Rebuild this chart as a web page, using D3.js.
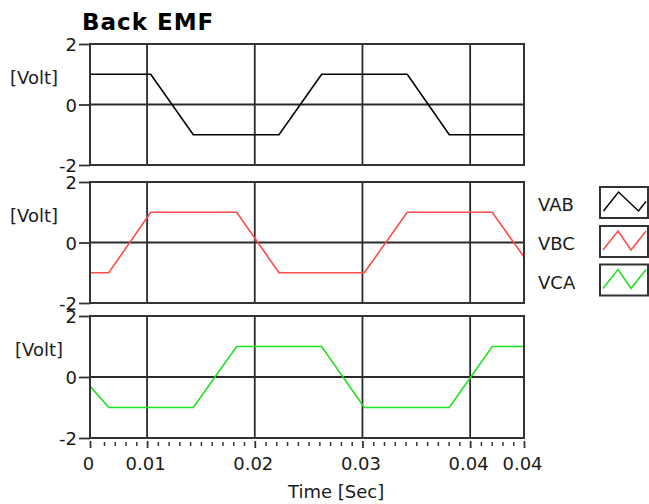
<!DOCTYPE html>
<html>
<head>
<meta charset="utf-8">
<script src="https://cdn.jsdelivr.net/npm/d3@7"></script>
<style>
  body { margin: 0; background: #fff; }
  svg { display: block; font-family: "DejaVu Sans", sans-serif; }
</style>
</head>
<body>
<div id="chart"></div>
<script>
// breakpoints (time in s, value in V)
const vabT = [0, 0.00564, 0.00959, 0.01755, 0.02151, 0.02946, 0.03336, 0.0403];
const vabV = [1, 1, -1, -1, 1, 1, -1, -1];
const vbcT = [0, 0.00174, 0.00564, 0.01362, 0.01755, 0.02547, 0.02946, 0.03735, 0.0403];
const vbcV = [-1, -1, 1, 1, -1, -1, 1, 1, -0.48];
const vcaT = [0, 0.00174, 0.00959, 0.01362, 0.02151, 0.02547, 0.03336, 0.03735, 0.0403];
const vcaV = [-0.3, -1, -1, 1, 1, -1, -1, 1, 1];

const seriesNames = ['VAB', 'VBC', 'VCA'];
const seriesColors = ['#000000', '#ff4a4a', '#1fe01f'];

const xDomain = [0, 0.0403];
const xMajor = [0, 0.0053, 0.0153, 0.0253, 0.0353, 0.0403];
const xLabels = ['0', '0.01', '0.02', '0.03', '0.04', '0.04'];
const xGrid = [0.0053, 0.0153, 0.0253, 0.0353];
const yTicks = [-2, 0, 2];
const yTickLabels = ['-2', '0', '2'];

const W = 649, H = 504;
const left = 90, right = 524;
const panels = [ // layout only
    { top: 44, bottom: 165, labelX: 10 },
    { top: 182, bottom: 303, labelX: 10 },
    { top: 316, bottom: 438, labelX: 15 }
];

const data = [
    vabT.map((t, i) => ({ t, v: vabV[i] })),
    vbcT.map((t, i) => ({ t, v: vbcV[i] })),
    vcaT.map((t, i) => ({ t, v: vcaV[i] }))
];

const svg = d3.select('#chart').append('svg')
    .attr('width', W)
    .attr('height', H);

const x = d3.scaleLinear().domain(xDomain).range([left, right]);

// title
svg.append('text')
    .attr('x', 82)
    .attr('y', 29.5)
    .attr('font-size', 23)
    .attr('font-weight', 'bold')
    .attr('letter-spacing', 1)
    .attr('fill', '#000')
    .text('Back EMF');

panels.forEach((p, k) => {
    const y = d3.scaleLinear().domain([-2, 2]).range([p.bottom, p.top]);
    const g = svg.append('g');

    // vertical grid
    g.selectAll('.vgrid').data(xGrid).join('line')
        .attr('x1', d => x(d)).attr('x2', d => x(d))
        .attr('y1', p.top).attr('y2', p.bottom)
        .attr('stroke', '#2a2a2a').attr('stroke-width', 1.8);

    // zero line
    g.append('line')
        .attr('x1', left).attr('x2', right)
        .attr('y1', y(0)).attr('y2', y(0))
        .attr('stroke', '#2a2a2a').attr('stroke-width', 1.8);

    // waveform
    const line = d3.line().x(d => x(d.t)).y(d => y(d.v));
    g.append('path')
        .datum(data[k])
        .attr('d', line)
        .attr('fill', 'none')
        .attr('stroke', seriesColors[k])
        .attr('stroke-width', 1.6);

    // frame
    g.append('rect')
        .attr('x', left).attr('y', p.top)
        .attr('width', right - left).attr('height', p.bottom - p.top)
        .attr('fill', 'none')
        .attr('stroke', '#333').attr('stroke-width', 2);

    // y axis
    const yAxis = g.append('g')
        .attr('transform', `translate(${left},0)`)
        .call(d3.axisLeft(y).tickValues(yTicks).tickSize(11).tickPadding(2)
            .tickFormat((d, i) => yTickLabels[i]));
    yAxis.select('.domain').remove();
    yAxis.selectAll('line').attr('stroke', '#333').attr('stroke-width', 1.8);
    yAxis.selectAll('text')
        .attr('font-size', 18)
        .attr('font-family', '"DejaVu Sans", sans-serif')
        .attr('fill', '#1a1a1a')
        .attr('dy', '0.38em');

    // unit label
    g.append('text')
        .attr('x', p.labelX)
        .attr('y', p.top + 40)
        .attr('font-size', 18)
        .attr('fill', '#1a1a1a')
        .text('[Volt]');
});

// x axis below last panel
const last = panels[panels.length - 1];
const minor = d3.range(13, 404, 10).map(d => d / 10000)
    .filter(d => !xMajor.some(m => Math.abs(m - d) < 1e-6));

const xMinor = svg.append('g')
    .attr('transform', `translate(0,${last.bottom + 4})`)
    .call(d3.axisBottom(x).tickValues(minor).tickSize(4).tickFormat(''));
xMinor.select('.domain').remove();
xMinor.selectAll('line').attr('stroke', '#333').attr('stroke-width', 1.5);

const xAxis = svg.append('g')
    .attr('transform', `translate(0,${last.bottom + 3})`)
    .call(d3.axisBottom(x).tickValues(xMajor).tickSize(7).tickPadding(9)
        .tickFormat((d, i) => xLabels[i]));
xAxis.select('.domain').remove();
xAxis.selectAll('line').attr('stroke', '#333').attr('stroke-width', 1.8);
xAxis.selectAll('text')
    .attr('font-size', 18)
    .attr('font-family', '"DejaVu Sans", sans-serif')
    .attr('fill', '#1a1a1a')
    .attr('dx', -2);

svg.append('text')
    .attr('x', 288)
    .attr('y', 498)
    .attr('font-size', 18)
    .attr('fill', '#1a1a1a')
    .text('Time [Sec]');

// legend
const legendTop = [187, 226, 264.5];
const icons = [
    [[3.5, 24], [18.5, 5], [38.5, 24], [46, 14.5]],
    [[3, 24], [18, 5], [31, 24], [46, 5]],
    [[3, 24], [18, 5], [31, 24], [46, 5]]
];
seriesNames.forEach((name, i) => {
    const ly = legendTop[i];
    svg.append('text')
        .attr('x', 538)
        .attr('y', ly + 24)
        .attr('font-size', 18)
        .attr('fill', '#1a1a1a')
        .text(name);
    const box = svg.append('g').attr('transform', `translate(600,${ly})`);
    box.append('rect')
        .attr('width', 48).attr('height', 31)
        .attr('fill', '#fff')
        .attr('stroke', '#333').attr('stroke-width', 2);
    box.append('path')
        .attr('d', d3.line()(icons[i]))
        .attr('fill', 'none')
        .attr('stroke', seriesColors[i])
        .attr('stroke-width', 1.5);
});
</script>
</body>
</html>
